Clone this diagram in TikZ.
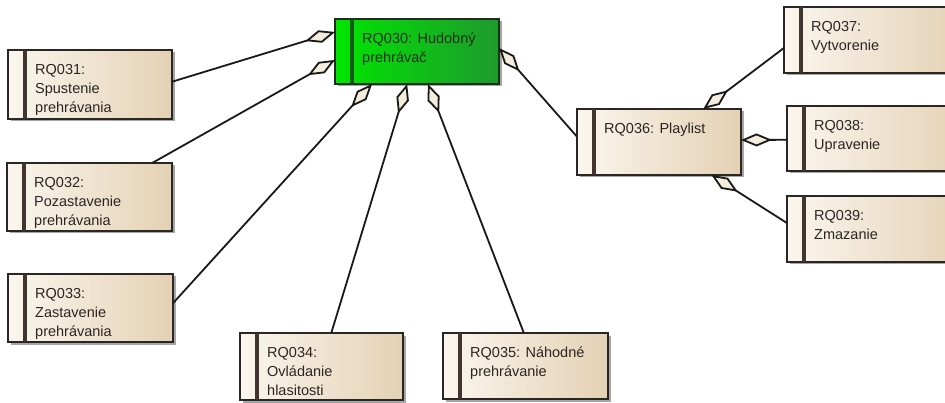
\documentclass[tikz,border=0pt]{standalone}
\usepackage{fontspec}
\setmainfont{Liberation Sans}
\usetikzlibrary{arrows.meta,shadows,calc}

\definecolor{boxL}{HTML}{FBF6EE}
\definecolor{boxR}{HTML}{E4D1B4}
\definecolor{boxLine}{HTML}{2A2624}
\definecolor{barCol}{HTML}{40362F}
\definecolor{txtCol}{HTML}{2A2622}
\definecolor{grnL}{HTML}{00E600}
\definecolor{grnM}{HTML}{06D60C}
\definecolor{grnR}{HTML}{1E9A2E}
\definecolor{grnBar}{HTML}{0E5A12}
\definecolor{grnLine}{HTML}{1A301A}
\definecolor{grnTxt}{HTML}{153015}
\definecolor{dFill}{HTML}{F4ECDD}

\tikzset{
  reqbox/.style={draw=boxLine, line width=1.8pt, rectangle, inner sep=0pt, outer sep=0pt,
    anchor=north west, left color=boxL, right color=boxR,
    drop shadow={shadow xshift=2.5pt, shadow yshift=-2.5pt, opacity=0.35, fill=black}},
  mainbox/.style={reqbox, left color=grnL, middle color=grnM, right color=grnR, draw=grnLine},
  reqbar/.style={draw=barCol, line width=3.2pt},
  mainbar/.style={draw=grnBar, line width=3.2pt},
  reqtext/.style={anchor=north west, inner sep=0pt, align=left, text=txtCol,
    font=\fontsize{14.5}{19}\selectfont},
  agg/.style={draw=black!90, line width=1.8pt,
    -{Diamond[length=31pt,width=13pt,fill=dFill]}},
}

% requirement box: name, x, y, width, height, text
\newcommand\reqbox[7][reqbox]{%
  \node[#1, minimum width=#5, minimum height=#6] (#2) at (#3,#4) {};
  \draw[reqbar] ([xshift=17]#2.north west) -- ([xshift=17]#2.south west);
  \node[reqtext] (#2t) at ([xshift=27,yshift=-14]#2.north west) {#7};
}

\begin{document}
\begin{tikzpicture}[x=1pt,y=-1pt]
\clip (0,0) rectangle (945,403);
\fill[white] (0,0) rectangle (945,403);

% central requirement
\node[mainbox, minimum width=164, minimum height=65] (rq30) at (335,19) {};
\draw[mainbar] ([xshift=17]rq30.north west) -- ([xshift=17]rq30.south west);
\node[reqtext, text=grnTxt] (rq30t) at ([xshift=27,yshift=-14]rq30.north west) {RQ030: Hudobný\\prehrávač};

% sub-requirements
\reqbox{rq31}{8}{50}{164}{69}{RQ031:\\Spustenie\\prehrávania}
\reqbox{rq32}{7}{163}{165}{68}{RQ032:\\Pozastavenie\\prehrávania}
\reqbox{rq33}{8}{274}{165}{68}{RQ033:\\Zastavenie\\prehrávania}
\reqbox{rq34}{240}{333}{163}{67}{RQ034:\\Ovládanie\\hlasitosti}
\reqbox{rq35}{443}{333}{165}{66}{RQ035: Náhodné\\prehrávanie}
\reqbox{rq36}{577}{109}{164}{66}{RQ036: Playlist}
\reqbox{rq37}{784}{7}{180}{66}{RQ037:\\Vytvorenie}
\reqbox{rq38}{787}{106}{180}{65}{RQ038:\\Upravenie}
\reqbox{rq39}{787}{196}{180}{66}{RQ039:\\Zmazanie}

% aggregation connectors
\draw[agg] ($(rq31.north east)!0.46!(rq31.south east)$) -- ($(rq30.north west)!0.2!(rq30.south west)$);
\draw[agg] ($(rq32.north west)!0.88!(rq32.north east)$) -- ($(rq30.north west)!0.63!(rq30.south west)$);
\draw[agg] ($(rq33.north east)!0.43!(rq33.south east)$) -- ($(rq30.south west)!0.226!(rq30.south east)$);
\draw[agg] ($(rq34.north west)!0.56!(rq34.north east)$) -- ($(rq30.south west)!0.44!(rq30.south east)$);
\draw[agg] ($(rq35.north west)!0.49!(rq35.north east)$) -- ($(rq30.south west)!0.567!(rq30.south east)$);
\draw[agg] ($(rq36.north west)!0.42!(rq36.south west)$) -- ($(rq30.north east)!0.446!(rq30.south east)$);
\draw[agg] ($(rq37.north west)!0.62!(rq37.south west)$) -- ($(rq36.north west)!0.77!(rq36.north east)$);
\draw[agg] ($(rq38.north west)!0.52!(rq38.south west)$) -- ($(rq36.north east)!0.47!(rq36.south east)$);
\draw[agg] ($(rq39.north west)!0.41!(rq39.south west)$) -- ($(rq36.south west)!0.82!(rq36.south east)$);
\end{tikzpicture}
\end{document}
